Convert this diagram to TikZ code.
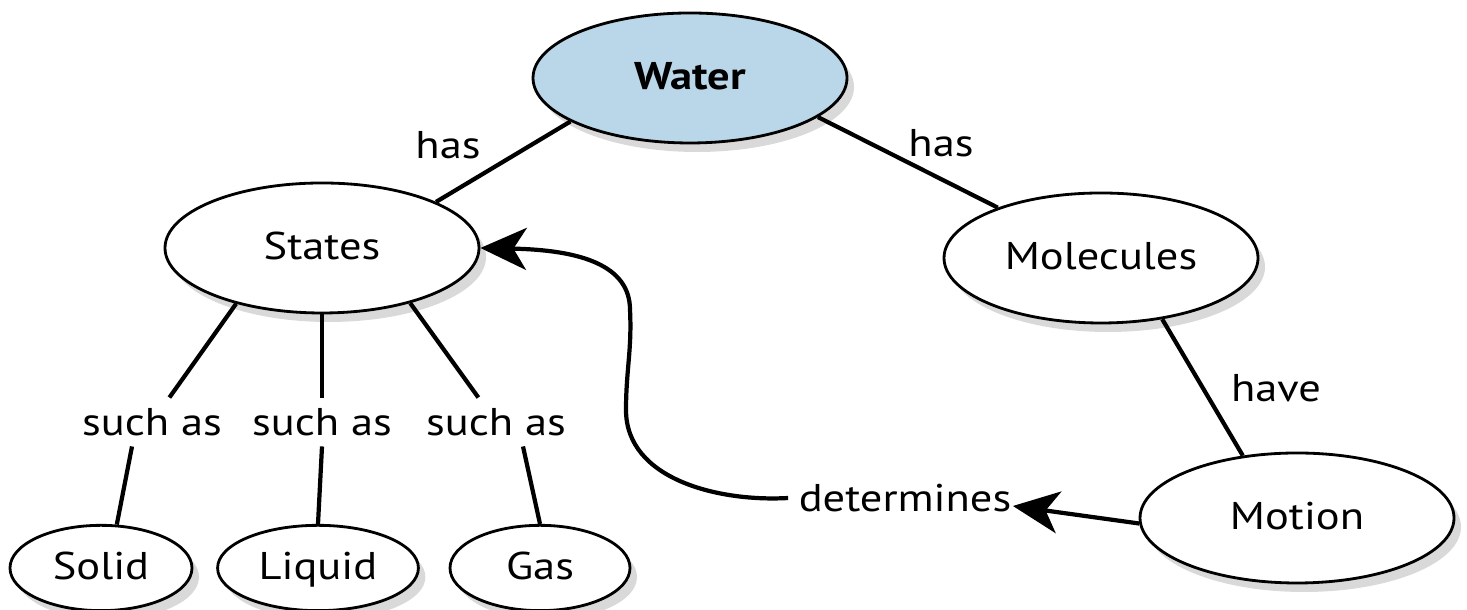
\documentclass[tikz,border=0pt]{standalone}
\usepackage{fontspec}
\setmainfont{PT Sans}[FakeStretch=1.15]
\usetikzlibrary{shapes.geometric, positioning, arrows.meta, shadows}
\definecolor{waterblue}{RGB}{186,214,233}

\begin{document}
\begin{tikzpicture}
    % settings for this picture
    \tikzset{
      every node/.style={font=\fontsize{11}{13}\selectfont},
      concept/.style={ellipse, draw, thick, fill=white,
        minimum width=3.14cm, minimum height=1.30cm,
        text height=1.7ex, text depth=0.4ex,
        drop shadow={shadow xshift=0.7mm, shadow yshift=-0.9mm, opacity=0.3}},
      small concept/.style={concept, minimum width=1.78cm, minimum height=0.74cm},
      link/.style={inner sep=1mm},
      line/.style={line width=1.2pt},
      >={Stealth[length=4.6mm, width=4.2mm, inset=1.3mm]},
    }
    \useasboundingbox (0,0) rectangle (14.67,6.10);

    % concepts
    \node[concept, fill=waterblue] at (6.90,5.32) (water) {\textbf{Water}};
    \node[concept] at (3.22,3.62) (states) {States};
    \node[concept] at (11.01,3.52) (molecules) {Molecules};
    \node[concept] at (12.97,0.92) (motion) {Motion};
    \node[small concept, minimum width=1.82cm] at (1.01,0.42) (solid) {Solid};
    \node[small concept, minimum width=1.72cm] at (3.18,0.42) (liquid) {Liquid};
    \node[small concept, minimum width=1.80cm] at (5.40,0.42) (gas) {Gas};

    % link words
    \node[link] at (4.48,4.65) (hasl) {has};
    \node[link] at (9.41,4.67) (hasr) {has};
    \node[link] at (1.52,1.88) (such1) {such as};
    \node[link] at (3.22,1.88) (such2) {such as};
    \node[link] at (4.96,1.88) (such3) {such as};
    \node[link] at (12.76,2.22) (have) {have};
    \node[link] at (9.05,1.12) (det) {determines};

    % links
    \draw[line] (water.200) -- (states.22);
    \draw[line] (water.343) -- (molecules.154);
    \draw[line] (molecules.315) -- (motion.131);
    \draw[line] (states.213) -- (such1);
    \draw[line] (states.270) -- (such2);
    \draw[line] (states.328) -- (such3);
    \draw[line] ([xshift=-2mm]such1.south) -- (solid.70);
    \draw[line] (such2.south) -- (liquid.north);
    \draw[line] ([xshift=2.7mm]such3.south) -- (gas.north);
    \draw[line, ->] (motion.182) -- ([xshift=-0.9mm, yshift=-0.8mm]det.east);
    \draw[line, ->] (det.west) .. controls (7.2,1.08) and (6.26,1.30) .. (6.26,2.0)
          .. controls (6.26,2.4) and (6.32,2.6) .. (6.30,3.0)
          .. controls (6.30,3.45) and (5.8,3.60) .. (states.east);

\end{tikzpicture}
\end{document}
